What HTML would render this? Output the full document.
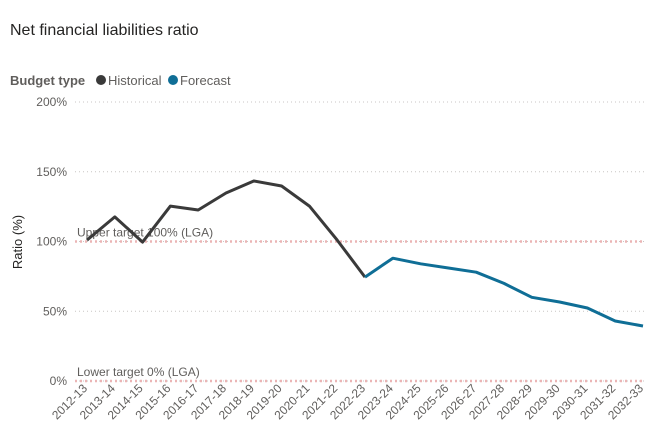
<!DOCTYPE html>
<html><head><meta charset="utf-8"><style>
body{margin:0;background:#fff;font-family:"Liberation Sans","DejaVu Sans",sans-serif;}
svg text{font-family:"Liberation Sans","DejaVu Sans",sans-serif;}
</style></head><body>
<svg id="c" width="645" height="435">
<text x="10" y="35" font-size="16" fill="#252423">Net financial liabilities ratio</text>
<g>
<text x="10" y="85" font-size="13" font-weight="bold" fill="#605E5C">Budget type</text>
<circle cx="101" cy="80" r="5" fill="#3A3A3A"/>
<text x="108" y="85" font-size="13" fill="#605E5C">Historical</text>
<circle cx="173" cy="80" r="5" fill="#0F6E96"/>
<text x="180" y="85" font-size="13" fill="#605E5C">Forecast</text>
</g>
<text transform="translate(22,242) rotate(-90)" text-anchor="middle" font-size="13" fill="#252423">Ratio (%)</text>
<g id="grid"></g><g id="lines"></g><g id="xl"></g>
</svg>
<script>
const categories=["2012-13","2013-14","2014-15","2015-16","2016-17","2017-18","2018-19","2019-20","2020-21","2021-22","2022-23","2023-24","2024-25","2025-26","2026-27","2027-28","2028-29","2029-30","2030-31","2031-32","2032-33"];
const historical=[101,117.6,99.6,125.4,122.6,134.8,143.4,139.8,125.4,101,74.5,null,null,null,null,null,null,null,null,null,null];
const forecast=[null,null,null,null,null,null,null,null,null,null,74.5,88,84,81,78,70,60,56.6,52.3,43,39.4];
const yTicks=[0,50,100,150,200];
const yTickLabels=["0%","50%","100%","150%","200%"];
const NS="http://www.w3.org/2000/svg";
const x0=87,x1=643,yBase=381,yTop=102;
function xs(i){return x0+(x1-x0)*i/(categories.length-1);}
function ys(v){return yBase-(yBase-yTop)*v/200;}
function mk(t,a,p){const e=document.createElementNS(NS,t);for(const k in a)e.setAttribute(k,a[k]);p.appendChild(e);return e;}
const grid=document.getElementById('grid');
yTicks.forEach((v,i)=>{
 const g=mk('line',{x1:75,x2:645,y1:ys(v),y2:ys(v),stroke:'#C8C6C4','stroke-dasharray':'1 3'},grid);
 
 
 const t=mk('text',{x:67,y:ys(v)+4,'text-anchor':'end','font-size':12,fill:'#605E5C'},grid);
 t.textContent=yTickLabels[i];
 
 
});
[[100,'Upper target 100% (LGA)','upper-target'],[0,'Lower target 0% (LGA)','lower-target']].forEach(r=>{
 const l=mk('line',{x1:75,x2:645,y1:ys(r[0]),y2:ys(r[0]),stroke:'#EBB5B5','stroke-width':2.5,'stroke-dasharray':'2 3'},grid);
 
 
 const t=mk('text',{x:77,y:ys(r[0])-5,'font-size':12,fill:'#605E5C'},grid);
 t.textContent=r[1];
 
 
});
const lines=document.getElementById('lines');
function path(arr,col,name){
 let d='';arr.forEach((v,i)=>{if(v==null)return;d+=(d?'L':'M')+xs(i).toFixed(1)+','+ys(v).toFixed(1);});
 const p=mk('path',{d:d,fill:'none',stroke:col,'stroke-width':3,'stroke-linejoin':'round'},lines);
 
 
}
path(historical,'#3A3A3A','historical-line');
path(forecast,'#0F6E96','forecast-line');
const xl=document.getElementById('xl');
categories.forEach((c,i)=>{
 const t=mk('text',{transform:`translate(${xs(i)+1},${389}) rotate(-45)`,'text-anchor':'end','font-size':12,fill:'#605E5C'},xl);
 t.textContent=c;
 
 
});
</script>
</body></html>
